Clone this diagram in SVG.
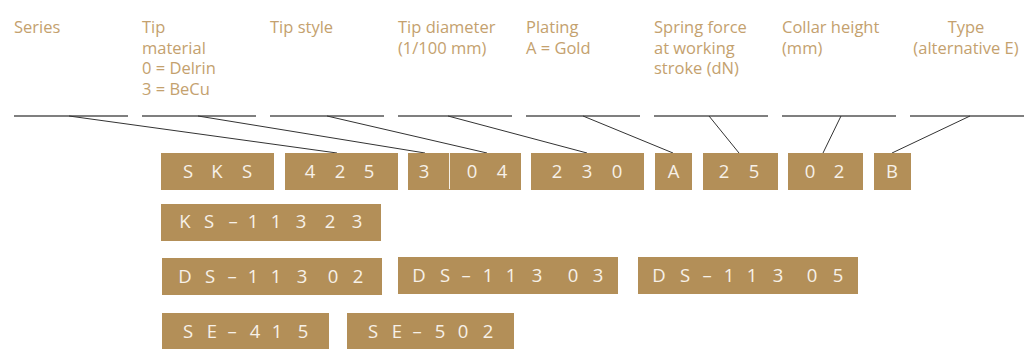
<svg xmlns="http://www.w3.org/2000/svg" width="1026" height="349" viewBox="0 0 1026 349">
<style>
.lbl{font-family:"Open Sans","Noto Sans","Liberation Sans",sans-serif;font-size:16.5px;fill:#c4a16e}
.box{fill:#b38f58}
.bt{font-family:"Open Sans","Noto Sans","Liberation Sans",sans-serif;font-size:18.5px;fill:#f7f1e8;text-anchor:middle}
.hl{stroke:#555;stroke-width:1.3;fill:none}
.cn{stroke:#333;stroke-width:1;fill:none}
</style>
<rect width="1026" height="349" fill="#fff"/>
<g id="labels">
<g id="lbl-series"><text class="lbl" x="14" y="33">Series</text></g>
<g id="lbl-tipmat"><text class="lbl" x="142" y="33">Tip<tspan x="142" dy="20.5">material</tspan><tspan x="142" dy="20.5">0 = Delrin</tspan><tspan x="142" dy="20.5">3 = BeCu</tspan></text></g>
<g id="lbl-tipstyle"><text class="lbl" x="270" y="33">Tip style</text></g>
<g id="lbl-tipdia"><text class="lbl" x="398" y="33">Tip diameter<tspan x="398" dy="20.5">(1/100 mm)</tspan></text></g>
<g id="lbl-plating"><text class="lbl" x="526" y="33">Plating<tspan x="526" dy="20.5">A = Gold</tspan></text></g>
<g id="lbl-spring"><text class="lbl" x="654" y="33">Spring force<tspan x="654" dy="20.5">at working</tspan><tspan x="654" dy="20.5">stroke (dN)</tspan></text></g>
<g id="lbl-collar"><text class="lbl" x="782" y="33">Collar height<tspan x="782" dy="20.5">(mm)</tspan></text></g>
<g id="lbl-type"><text class="lbl" x="966" y="33" text-anchor="middle">Type<tspan x="966" dy="20.5">(alternative E)</tspan></text></g>
</g>
<g id="connectors">
<path class="hl" d="M14 116H128M142 116H256M270 116H384M398 116H512M526 116H640M654 116H768M782 116H896M910 116H1024"/>
<path class="cn" d="M69 116L337 153M198 116L425 153M327 116L487 153M448 116L587 153M583 116L673 153M709 116L739 153M841 116L823 153M970 116L892 153"/>
</g>
<g id="n-sks"><rect class="box" x="161" y="153" width="113" height="37"/><text class="bt" x="188 217 247" y="178">SKS</text></g>
<g id="n-425"><rect class="box" x="285" y="153" width="113" height="37"/><text class="bt" x="310 340 369" y="178">425</text></g>
<g id="n-304"><rect class="box" x="408" y="153" width="113" height="37"/><line x1="449.5" y1="153" x2="449.5" y2="189" stroke="#f7f1e8" stroke-width="1"/><text class="bt" x="424 472 502" y="178">304</text></g>
<g id="n-230"><rect class="box" x="531" y="153" width="113" height="37"/><text class="bt" x="557 587 617" y="178">230</text></g>
<g id="n-a"><rect class="box" x="655" y="153" width="37" height="37"/><text class="bt" x="673.5" y="178">A</text></g>
<g id="n-25"><rect class="box" x="703" y="153" width="75" height="37"/><text class="bt" x="724 754" y="178">25</text></g>
<g id="n-02"><rect class="box" x="788" y="153" width="75" height="37"/><text class="bt" x="810 839" y="178">02</text></g>
<g id="n-b"><rect class="box" x="874" y="153" width="37" height="37"/><text class="bt" x="892" y="178">B</text></g>
<g id="n-ks11323"><rect class="box" x="161" y="204" width="220" height="37"/><text class="bt" x="185 209 233 253 276 301 330 357" y="228">KS–11323</text></g>
<g id="n-ds11302"><rect class="box" x="162" y="258" width="220" height="37"/><text class="bt" x="185 210 232 253 276 302 333 358" y="283">DS–11302</text></g>
<g id="n-ds11303"><rect class="box" x="398" y="257" width="220" height="37"/><text class="bt" x="419 445 466 488 511 537 573 598" y="282">DS–11303</text></g>
<g id="n-ds11305"><rect class="box" x="638" y="257" width="220" height="37"/><text class="bt" x="659 685 707 729 752 778 812 838" y="282">DS–11305</text></g>
<g id="n-se415"><rect class="box" x="162" y="313" width="167" height="36"/><text class="bt" x="188 212 232 255 277 303" y="338">SE–415</text></g>
<g id="n-se502"><rect class="box" x="347" y="313" width="167" height="36"/><text class="bt" x="373 397 417 440 463 488" y="338">SE–502</text></g>
</svg>
